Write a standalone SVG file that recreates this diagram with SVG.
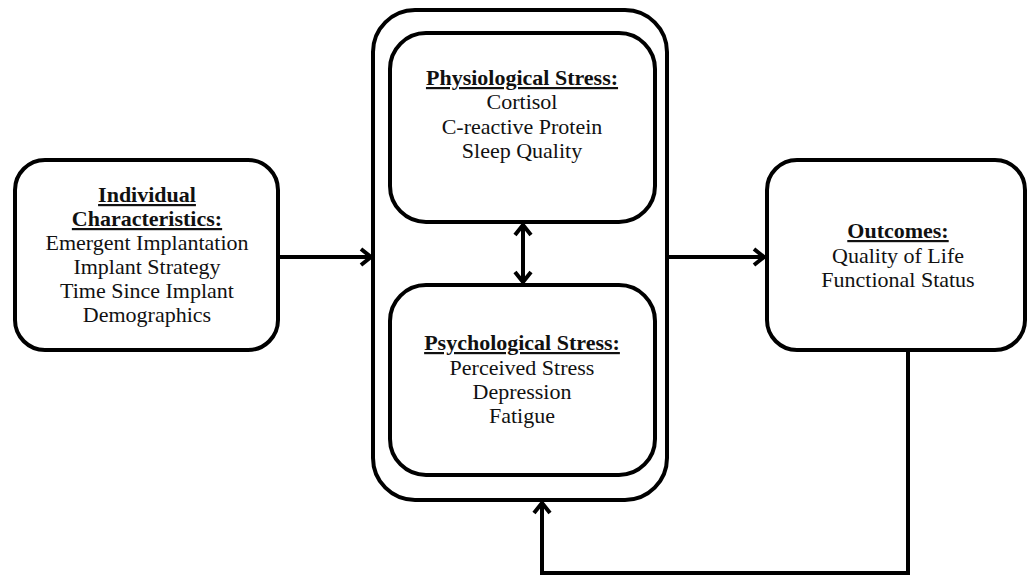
<svg xmlns="http://www.w3.org/2000/svg" width="1028" height="581" viewBox="0 0 1028 581">
<defs>
<style>
.box{fill:#fff;stroke:#000;stroke-width:4}
.t{font-family:"Liberation Serif","DejaVu Serif",serif;font-size:22px;fill:#111;text-anchor:middle}
.h{font-weight:bold;text-decoration:underline}
.c{fill:none;stroke:#000;stroke-width:4}
</style>
<marker id="arr" viewBox="0 0 12 12" refX="10" refY="6" markerWidth="12" markerHeight="12" markerUnits="userSpaceOnUse" orient="auto-start-reverse" overflow="visible">
<path d="M0,-2 L10,6 L0,14" fill="none" stroke="#000" stroke-width="4" stroke-linejoin="miter"/>
</marker>
</defs>
<rect width="1028" height="581" fill="#fff"/>
<g id="individual">
<rect class="box" x="15" y="160" width="263" height="190" rx="30"/>
<text class="t h" x="147" y="202">Individual</text>
<text class="t h" x="147" y="226">Characteristics:</text>
<text class="t" x="147" y="250">Emergent Implantation</text>
<text class="t" x="147" y="274">Implant Strategy</text>
<text class="t" x="147" y="298">Time Since Implant</text>
<text class="t" x="147" y="322">Demographics</text>
</g>
<g id="stress">
<rect class="box" x="373" y="10" width="294" height="490" rx="42"/>
</g>
<g id="physiological">
<rect class="box" x="390" y="33" width="265" height="189" rx="36"/>
<text class="t h" x="522" y="85">Physiological Stress:</text>
<text class="t" x="522" y="109">Cortisol</text>
<text class="t" x="522" y="134">C-reactive Protein</text>
<text class="t" x="522" y="158">Sleep Quality</text>
</g>
<g id="psychological">
<rect class="box" x="390" y="285" width="265" height="190" rx="36"/>
<text class="t h" x="522" y="350">Psychological Stress:</text>
<text class="t" x="522" y="375">Perceived Stress</text>
<text class="t" x="522" y="399">Depression</text>
<text class="t" x="522" y="423">Fatigue</text>
</g>
<g id="outcomes">
<rect class="box" x="767" y="160" width="258" height="190" rx="30"/>
<text class="t h" x="898" y="238">Outcomes:</text>
<text class="t" x="898" y="263">Quality of Life</text>
<text class="t" x="898" y="287">Functional Status</text>
</g>
<g id="connectors">
<line class="c" x1="280" y1="257" x2="371" y2="257" marker-end="url(#arr)"/>
<line class="c" x1="669" y1="257" x2="764" y2="257" marker-end="url(#arr)"/>
<line class="c" x1="523" y1="225" x2="523" y2="282" marker-start="url(#arr)" marker-end="url(#arr)"/>
<polyline class="c" points="908,352 908,573 542,573 542,503" marker-end="url(#arr)"/>
</g>
</svg>
